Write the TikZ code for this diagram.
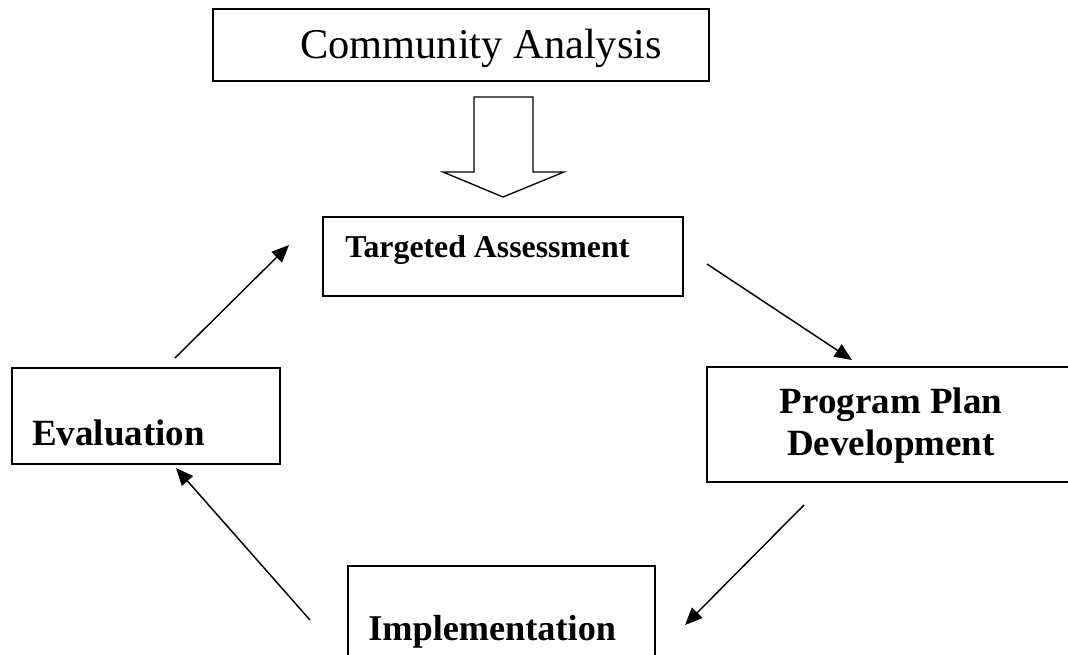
\documentclass[tikz,border=0pt]{standalone}
\usepackage{fontspec}
\setmainfont{Liberation Serif}
\usetikzlibrary{arrows.meta}

\tikzset{
  stagebox/.style={draw, line width=1.4pt, inner sep=0pt, rectangle},
  caption/.style={inner sep=0pt, anchor=base west, font=\bfseries\fontsize{27.75pt}{31.5pt}\selectfont},
  flow/.style={line width=1.1pt, -{Triangle[length=13pt, width=11pt]}},
  bigarrow/.style={draw, line width=1pt, fill=white},
}

\begin{document}
\begin{tikzpicture}[x=0.75pt, y=-0.75pt]
  \useasboundingbox (0,0) rectangle (1068,654);
  \clip (0,0) rectangle (1068,654);
  \fill[white] (0,0) rectangle (1068,654);

  % boxes
  \node[stagebox, minimum width=372pt, minimum height=54pt] (ca) at (461,45) {};
  \node[stagebox, minimum width=270pt, minimum height=59.25pt] (ta) at (503,256.5) {};
  \node[stagebox, minimum width=201pt, minimum height=72pt] (ev) at (146,416) {};
  \node[stagebox, minimum width=276pt, minimum height=86.25pt] (pp) at (891,424.5) {};
  \node[stagebox, minimum width=230.25pt, minimum height=85.5pt] (im) at (501.5,623) {};

  % labels
  \node[inner sep=0pt, anchor=base west, font=\fontsize{31.8pt}{38pt}\selectfont] (caT) at (300,58) {Community Analysis};
  \node[caption, font=\bfseries\fontsize{23.85pt}{28pt}\selectfont] (taT) at (345,257) {Targeted Assessment};
  \node[caption] (evT) at (32,445) {Evaluation};
  \node[caption, anchor=base, align=center] (ppT) at (891,455) {Program Plan\\Development};
  \node[caption, font=\bfseries\fontsize{27.2pt}{31.5pt}\selectfont] (imT) at (368,640) {Implementation};

  % block arrow from the community analysis down to the cycle
  \draw[bigarrow] (474,97) -- (533,97) -- (533,172) -- (564,172) -- (503,197)
    -- (443,172) -- (474,172) -- cycle;

  % cycle connector end points
  \coordinate (taOut) at (707,264);
  \coordinate (ppIn) at (852,360);
  \coordinate (ppOut) at (804,505);
  \coordinate (imIn) at (685,625);
  \coordinate (imOut) at (310,620);
  \coordinate (evIn) at (176,468);
  \coordinate (evOut) at (175,358);
  \coordinate (taIn) at (289,245);

  \draw[flow] (taOut) -- (ppIn);
  \draw[flow] (ppOut) -- (imIn);
  \draw[flow] (imOut) -- (evIn);
  \draw[flow] (evOut) -- (taIn);
\end{tikzpicture}
\end{document}
